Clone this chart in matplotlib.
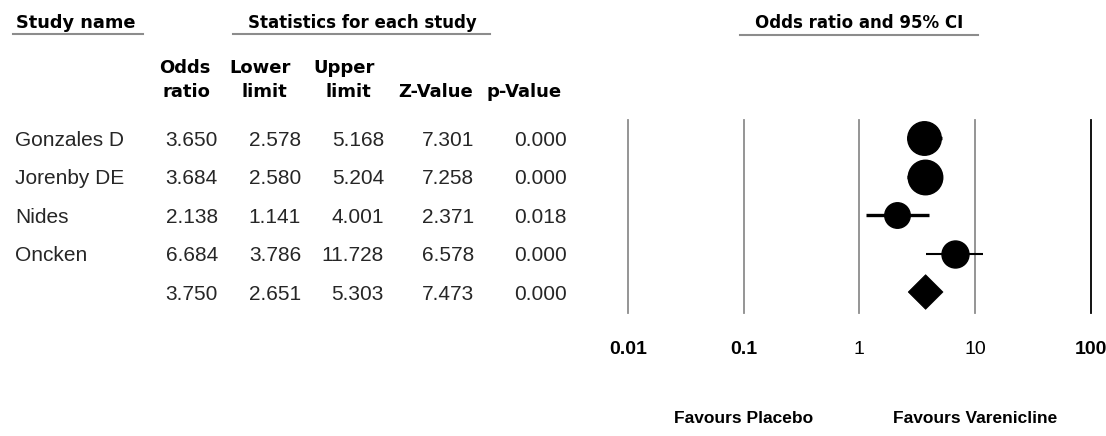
import matplotlib
matplotlib.use("Agg")
import matplotlib.pyplot as plt
from matplotlib.transforms import blended_transform_factory
from matplotlib.lines import Line2D
from matplotlib.patches import Polygon

# ---- data -------------------------------------------------------------
studies = ["Gonzales D", "Jorenby DE", "Nides", "Oncken", ""]
odds_ratio = [3.650, 3.684, 2.138, 6.684, 3.750]
lower_limit = [2.578, 2.580, 1.141, 3.786, 2.651]
upper_limit = [5.168, 5.204, 4.001, 11.728, 5.303]
z_value = [7.301, 7.258, 2.371, 6.578, 7.473]
p_value = [0.000, 0.000, 0.018, 0.000, 0.000]
is_summary = [False, False, False, False, True]

axis_ticks = [0.01, 0.1, 1, 10, 100]
tick_labels = ["0.01", "0.1", "1", "10", "100"]
favours_left = "Favours Placebo"
favours_right = "Favours Varenicline"

# ---- styling ----------------------------------------------------------
marker_px = [33.5, 34.5, 25.5, 27.0]     # study box diameters (pixels)
ci_width = [2.4, 2.4, 2.4, 1.5]          # CI line widths (points)
BODY_FONT = "Liberation Sans"
HEAD_FONT = "DejaVu Sans"
GRID_GRAY = "#8c8c8c"
BODY_COLOR = "#262626"

W, H = 1106, 436
fig = plt.figure(figsize=(W / 100, H / 100), dpi=100)


def fx(px):
    return px / W


def fy(py):
    return 1 - py / H


# forest-plot axes (log odds ratio scale)
ax = fig.add_axes([fx(628), fy(313), fx(1090.5) - fx(628), fy(120) - fy(313)])
ax.set_xscale("log")
ax.set_xlim(axis_ticks[0], axis_ticks[-1])
ax.set_ylim(4.545, -0.4675)
ax.axis("off")

for t in axis_ticks:
    ax.axvline(t, color="black" if t == axis_ticks[-1] else GRID_GRAY,
               lw=1.3, clip_on=False, zorder=1)

for i, (orr, lo, hi) in enumerate(zip(odds_ratio, lower_limit, upper_limit)):
    if is_summary[i]:
        h = 0.45
        ax.add_patch(Polygon([(lo, i), (orr, i - h), (hi, i), (orr, i + h)],
                             closed=True, facecolor="black", edgecolor="black",
                             lw=0.5, zorder=3))
    else:
        ax.plot([lo, hi], [i, i], color="black", lw=ci_width[i],
                solid_capstyle="butt", zorder=2)
        ax.plot([orr], [i], marker="o", ms=marker_px[i] * 0.72,
                color="black", mec="black", zorder=3)

# axis tick labels and favours captions
tx = blended_transform_factory(ax.transData, fig.transFigure)
for t, lab in zip(axis_ticks, tick_labels):
    bold = lab in ("0.01", "0.1", "100")
    ax.text(t, fy(349), lab, transform=tx, ha="center", va="center",
            fontsize=14, family=BODY_FONT,
            fontweight="bold" if bold else "normal", clip_on=False)
ax.text(axis_ticks[1], fy(418), favours_left, transform=tx, ha="center",
        va="center", fontsize=12.5, family=BODY_FONT, fontweight="bold")
ax.text(axis_ticks[3], fy(418), favours_right, transform=tx, ha="center",
        va="center", fontsize=12.5, family=BODY_FONT, fontweight="bold")

# ---- table on the left -------------------------------------------------
tr = blended_transform_factory(fig.transFigure, ax.transData)
col_right = [218, 301, 384, 474, 567]
dy = 0.06
for i, name in enumerate(studies):
    fig.text(fx(15), i + dy, name, transform=tr, ha="left", va="center",
             fontsize=15, family=BODY_FONT, color=BODY_COLOR)
    vals = [odds_ratio[i], lower_limit[i], upper_limit[i], z_value[i], p_value[i]]
    for xr, v in zip(col_right, vals):
        fig.text(fx(xr), i + dy, f"{v:.3f}", transform=tr, ha="right",
                 va="center", fontsize=15, family=BODY_FONT, color=BODY_COLOR)

# ---- headers -----------------------------------------------------------
def header(x, y, s, ha="center", size=13):
    fig.text(fx(x), fy(y), s, ha=ha, va="center", fontsize=size,
             family=HEAD_FONT, fontweight="bold")


header(16, 23, "Study name", ha="left", size=12.8)
header(362, 23, "Statistics for each study", size=12)
header(859, 23, "Odds ratio and 95% CI", size=12)

for x0, x1, y in [(13, 143, 34), (233, 490, 34), (740, 978, 35)]:
    fig.add_artist(Line2D([fx(x0), fx(x1)], [fy(y), fy(y)], color=GRID_GRAY,
                          lw=1.5, transform=fig.transFigure))

header(210, 68, "Odds", ha="right")
header(210, 92, "ratio", ha="right")
header(260, 68, "Lower")
header(264, 92, "limit")
header(344, 68, "Upper")
header(348, 92, "limit")
header(436, 92, "Z-Value")
header(524, 92, "p-Value")

fig.savefig("out.png", dpi=100, facecolor="white")
